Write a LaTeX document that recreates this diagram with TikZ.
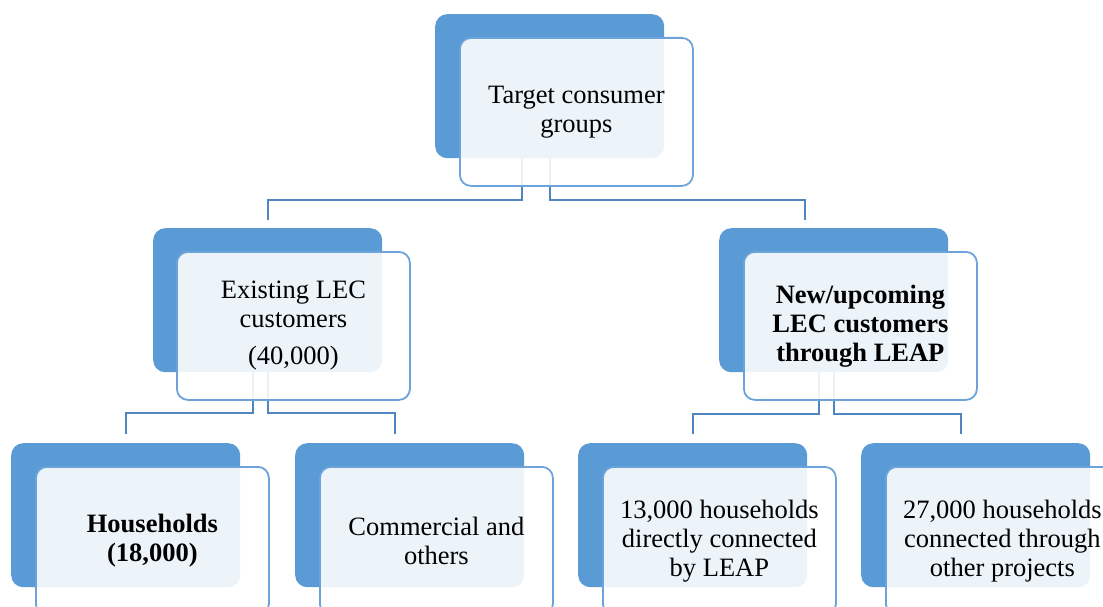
\documentclass[tikz,border=0pt]{standalone}
\usepackage{fontspec}
\setmainfont{Liberation Serif}
\usepackage{tikz}
\definecolor{plateblue}{HTML}{5B9BD5}
\definecolor{edgeblue}{HTML}{6CA3DA}
\definecolor{connblue}{HTML}{4F86C0}

\begin{document}
\begin{tikzpicture}[x=1pt, y=-1pt,
    plate/.style={fill=plateblue, rounded corners=12pt, minimum width=229pt,
      minimum height=144pt, anchor=north west, inner sep=0pt},
    card/.style={draw=edgeblue, line width=1.8pt, fill=white, fill opacity=.89,
      text opacity=1, rounded corners=11pt, minimum width=233pt, minimum height=148pt,
      anchor=north west, inner sep=0pt, align=center, font=\fontsize{26.5}{29}\selectfont},
    conn/.style={connblue, line width=2pt}]
    \useasboundingbox (0,0) rectangle (1103,607);
    % blue plates behind
    \node[plate] (topp) at (435,14) {};
    \node[plate] (leftp) at (153,228) {};
    \node[plate] (rightp) at (719,228) {};
    \node[plate] (housep) at (11,443) {};
    \node[plate] (commp) at (295,443) {};
    \node[plate] (directp) at (578,443) {};
    \node[plate] (otherp) at (861,443) {};
    % connectors
    \draw[conn] ([xshift=-27.5pt]topp.south) -- ++(0,42) -| ([yshift=8pt]leftp.north);
    \draw[conn] (topp.south) -- ++(0,42) -| ([xshift=-28.5pt,yshift=8pt]rightp.north);
    \draw[conn] ([xshift=-14.5pt]leftp.south) -- ++(0,41) -| ([yshift=9pt]housep.north);
    \draw[conn] (leftp.south) -- ++(0,41) -| ([xshift=-14.5pt,yshift=9pt]commp.north);
    \draw[conn] ([xshift=-14.5pt]rightp.south) -- ++(0,42) -| ([yshift=9pt]directp.north);
    \draw[conn] (rightp.south) -- ++(0,42) -| ([xshift=-14.5pt,yshift=9pt]otherp.north);
    % white cards in front
    \node[card] (topc) at (459,37) {Target consumer\\groups};
    \node[card] (leftc) at (176,251) {Existing LEC\\customers\\[8pt](40,000)};
    \node[card] (rightc) at (743,251) {\bfseries New/upcoming\\\bfseries LEC customers\\\bfseries through LEAP};
    \node[card] (housec) at (35,466) {\bfseries Households\\\bfseries (18,000)};
    \node[card] (commc) at (319,466) {Commercial and\\others};
    \node[card] (directc) at (602,466) {13,000 households\\directly connected\\by LEAP};
    \node[card] (otherc) at (885,466) {27,000 households\\connected through\\other projects};
  \end{tikzpicture}
\end{document}
